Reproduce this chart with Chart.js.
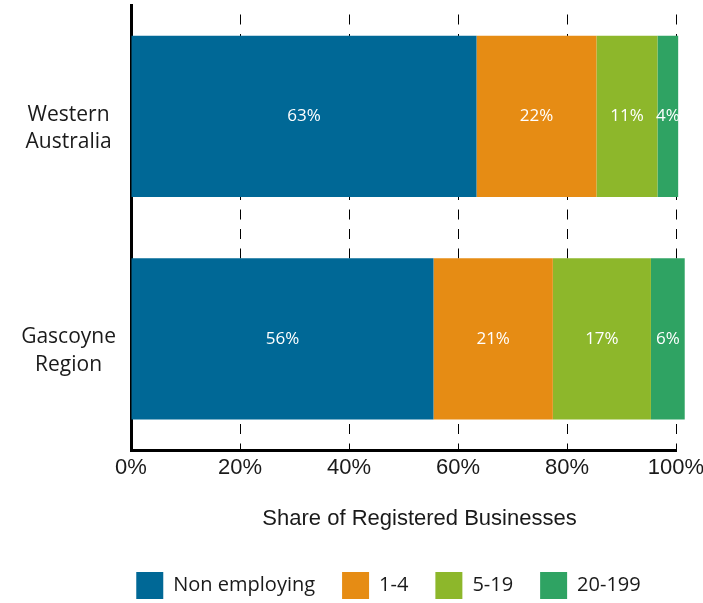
<!DOCTYPE html>
<html>
<head>
<meta charset="utf-8">
<script src="https://cdn.jsdelivr.net/npm/chart.js@4"></script>
<style>
  html, body { margin: 0; padding: 0; background: #ffffff; }
  #wrap { width: 703px; height: 603px; }
</style>
</head>
<body>
<div id="wrap"><canvas id="c" width="703" height="603"></canvas></div>
<script>
// ---- data ----
const categories = [["Western", "Australia"], ["Gascoyne", "Region"]];
const seriesNames = ["Non employing", "1-4", "5-19", "20-199"];
const nonEmploying = [63.4, 55.5];
const emp1to4 = [22.0, 21.9];
const emp5to19 = [11.2, 18.0];
const emp20to199 = [3.8, 6.2];
const labelsNonEmploying = ["63%", "56%"];
const labels1to4 = ["22%", "21%"];
const labels5to19 = ["11%", "17%"];
const labels20to199 = ["4%", "6%"];
const xTicks = [0, 20, 40, 60, 80, 100];
const axisTitle = "Share of Registered Businesses";

const colors = ["#006896", "#E68C14", "#8DB72B", "#2FA363"];
const seriesValues = [nonEmploying, emp1to4, emp5to19, emp20to199];
const seriesLabels = [labelsNonEmploying, labels1to4, labels5to19, labels20to199];

const humanist = "'Open Sans', 'Noto Sans', sans-serif";
const grotesk = "'Liberation Sans', Arial, sans-serif";

const segLabels = {
  id: 'segLabels',
  afterDatasetsDraw(chart) {
    const ctx = chart.ctx;
    ctx.save();
    ctx.fillStyle = '#ffffff';
    ctx.font = "17px " + humanist;
    ctx.textAlign = 'center';
    ctx.textBaseline = 'middle';
    chart.data.datasets.forEach((ds, di) => {
      const meta = chart.getDatasetMeta(di);
      meta.data.forEach((el, i) => {
        const p = el.getProps(['x', 'y', 'base'], true);
        ctx.fillText(seriesLabels[di][i], (p.x + p.base) / 2, p.y);
      });
    });
    ctx.restore();
  }
};

// shift the legend row so that it starts under the plot like the reference
const legendShift = {
  id: 'legendShift',
  afterLayout(chart) {
    if (chart.legend) chart.legend.left += 101;
  }
};

new Chart(document.getElementById('c'), {
  type: 'bar',
  data: {
    labels: categories,
    datasets: seriesNames.map((n, k) => ({
      label: n,
      data: seriesValues[k],
      backgroundColor: colors[k],
      borderWidth: 0,
      clip: false,
      categoryPercentage: 1,
      barPercentage: 0.724
    }))
  },
  options: {
    indexAxis: 'y',
    responsive: false,
    animation: false,
    devicePixelRatio: 1,
    layout: { padding: { top: 5, right: 27, left: 0, bottom: -6 } },
    plugins: {
      legend: {
        position: 'bottom',
        labels: {
          boxWidth: 27,
          boxHeight: 27,
          padding: 27,
          color: '#1a1a1a',
          font: { family: humanist, size: 20 }
        }
      },
      tooltip: { enabled: false }
    },
    scales: {
      x: {
        stacked: true,
        min: 0,
        max: 100,
        afterBuildTicks: (s) => { s.ticks = xTicks.map(v => ({ value: v })); },
        ticks: {
          callback: (v) => v + '%',
          color: '#1a1a1a',
          font: { family: grotesk, size: 22 },
          padding: 5,
          maxRotation: 0
        },
        grid: { color: '#000000', lineWidth: 1, drawTicks: false },
        border: { display: true, color: '#000000', width: 3, dash: [10, 9.5], dashOffset: 10 },
        title: {
          display: true,
          text: axisTitle,
          color: '#1a1a1a',
          font: { family: grotesk, size: 22 },
          padding: { top: 19, bottom: 13 }
        },
        afterFit: (s) => {
          s.paddingLeft = 0;
          s.paddingRight = 0;
          if (!s._shiftedTitle) {
            const orig = s.drawTitle.bind(s);
            s.drawTitle = function () {
              const ctx = this.ctx;
              ctx.save();
              ctx.translate(16, 0);
              orig();
              ctx.restore();
            };
            s._shiftedTitle = true;
          }
        }
      },
      y: {
        stacked: true,
        grid: { display: false, drawTicks: false },
        border: { display: true, color: '#000000', width: 3 },
        ticks: {
          color: '#1a1a1a',
          font: { family: humanist, size: 21, lineHeight: 1.3 },
          crossAlign: 'center',
          padding: 15,
          labelOffset: 12
        },
        afterFit: (s) => { s.width = 131; s.paddingTop = 0; s.paddingBottom = 0; }
      }
    }
  },
  plugins: [segLabels, legendShift]
});
</script>
</body>
</html>
